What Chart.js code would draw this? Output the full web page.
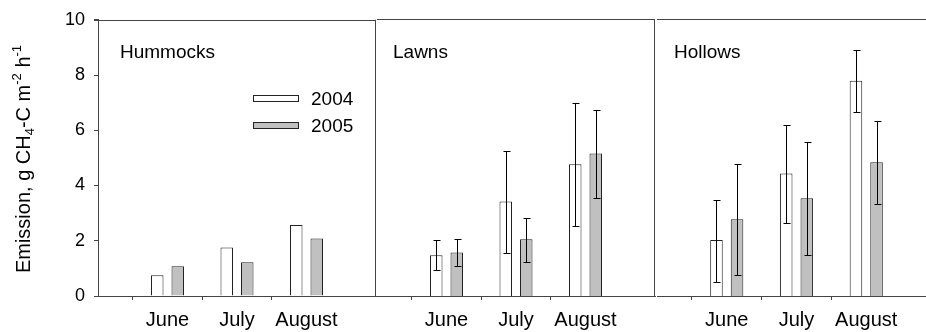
<!DOCTYPE html>
<html>
<head>
<meta charset="utf-8">
<script src="https://cdn.jsdelivr.net/npm/chart.js@4.4.1/dist/chart.umd.min.js"></script>
<style>
  html, body { margin: 0; padding: 0; background: #fff; overflow: hidden; }
  #wrap { position: relative; width: 926px; height: 332px; overflow: hidden; }
  canvas { position: absolute; top: 0; }
</style>
</head>
<body>
<div id="wrap">
  <canvas id="chartHummocks" width="377" height="332" style="left:0px"></canvas>
  <canvas id="chartLawns" width="279" height="332" style="left:377px"></canvas>
  <canvas id="chartHollows" width="280" height="332" style="left:657px"></canvas>
</div>
<script>
// months (empty slots at both ends keep the ticks at 1/4, 2/4, 3/4)
var meses = ['', 'June', 'July', 'August', ''];
var anos = ['2004', '2005'];
var yTicks = [0, 2, 4, 6, 8, 10];

// Hummocks
var hum2004 = [0.75, 1.76, 2.57];
var hum2005 = [1.08, 1.22, 2.08];

// Lawns
var lawn2004 = [1.47, 3.41, 4.76];
var lawn2004Hi = [2.01, 5.25, 6.96];
var lawn2004Lo = [0.94, 1.54, 2.53];
var lawn2005 = [1.57, 2.05, 5.14];
var lawn2005Hi = [2.05, 2.83, 6.72];
var lawn2005Lo = [1.08, 1.22, 3.55];

// Hollows
var hol2004 = [2.02, 4.42, 7.77];
var hol2004Hi = [3.47, 6.18, 8.87];
var hol2004Lo = [0.52, 2.64, 6.64];
var hol2005 = [2.77, 3.53, 4.83];
var hol2005Hi = [4.77, 5.57, 6.32];
var hol2005Lo = [0.77, 1.47, 3.33];

var FONTE = 'Liberation Sans, Arial, sans-serif';
var corLinha = '#444444';

function slots(v) {
    if (!v) return null;
    return [null, v[0], v[1], v[2], null];
}

// error bars, panel frame, panel title, legend and y title
var painelPlugin = {
    id: 'painel',
    afterDatasetsDraw: function (chart, args, opts) {
        var ctx = chart.ctx;
        var ca = chart.chartArea;
        var y = chart.scales.y;
        ctx.save();

        // error bars
        ctx.strokeStyle = '#000';
        ctx.lineWidth = 1;
        chart.data.datasets.forEach(function (ds, di) {
            if (!ds.hi) return;
            var meta = chart.getDatasetMeta(di);
            meta.data.forEach(function (el, i) {
                if (ds.hi[i] == null) return;
                var x = Math.round(el.x) + 0.5;
                var yh = Math.round(y.getPixelForValue(ds.hi[i])) + 0.5;
                var yl = Math.round(y.getPixelForValue(ds.lo[i])) + 0.5;
                ctx.beginPath();
                ctx.moveTo(x, yh); ctx.lineTo(x, yl);
                ctx.moveTo(x - 3, yh); ctx.lineTo(x + 4, yh);
                ctx.moveTo(x - 3, yl); ctx.lineTo(x + 4, yl);
                ctx.stroke();
            });
        });

        // frame: top and right
        ctx.strokeStyle = corLinha;
        ctx.beginPath();
        ctx.moveTo(ca.left - (opts.tickTop ? 4 : 0), Math.round(ca.top) + 0.5);
        ctx.lineTo(ca.right, Math.round(ca.top) + 0.5);
        ctx.moveTo(Math.round(ca.right) - 0.5, ca.top);
        ctx.lineTo(Math.round(ca.right) - 0.5, ca.bottom);
        ctx.stroke();

        // panel title
        ctx.fillStyle = '#000';
        ctx.font = '19px ' + FONTE;
        ctx.textBaseline = 'middle';
        ctx.textAlign = 'left';
        ctx.fillText(opts.titulo, ca.left + opts.tituloX, 53);

        // legend
        if (opts.legenda) {
            chart.data.datasets.forEach(function (ds, di) {
                var by = 95 + di * 27;
                ctx.fillStyle = ds.backgroundColor;
                ctx.fillRect(253, by, 46, 7);
                ctx.strokeStyle = ds.borderColor;
                ctx.strokeRect(253.5, by + 0.5, 45, 6);
                ctx.fillStyle = '#000';
                ctx.font = '19px ' + FONTE;
                ctx.fillText(ds.label, 311, by + 5);
            });
        }

        // y axis title with sub/superscripts
        if (opts.tituloY) {
            var partes = [
                ['Emission, g CH', 0], ['4', 1], ['-C m', 0], ['-2', -1], [' h', 0], ['-1', -1]
            ];
            var grande = '20px ' + FONTE, pequeno = '13px ' + FONTE;
            var total = 0;
            partes.forEach(function (p) {
                ctx.font = p[1] === 0 ? grande : pequeno;
                total += ctx.measureText(p[0]).width;
            });
            ctx.translate(30, 159);
            ctx.rotate(-Math.PI / 2);
            ctx.textBaseline = 'alphabetic';
            ctx.fillStyle = '#000';
            var px = -total / 2;
            partes.forEach(function (p) {
                ctx.font = p[1] === 0 ? grande : pequeno;
                var dy = p[1] === 1 ? 4 : (p[1] === -1 ? -9 : 0);
                ctx.fillText(p[0], px, dy);
                px += ctx.measureText(p[0]).width;
            });
        }
        ctx.restore();
    }
};

function criaPainel(id, titulo, tituloX, v04, v05, hi04, lo04, hi05, lo05, comEixo) {
    var ds = [
        {
            label: anos[0], data: slots(v04), hi: slots(hi04), lo: slots(lo04),
            backgroundColor: '#ffffff', borderColor: '#222222', borderWidth: 1
        },
        {
            label: anos[1], data: slots(v05), hi: slots(hi05), lo: slots(lo05),
            backgroundColor: '#c0c0c0', borderColor: '#222222', borderWidth: 1
        }
    ];
    var eixoY = {
        display: comEixo,
        min: 0, max: 10,
        afterBuildTicks: function (s) { s.ticks = yTicks.map(function (t) { return { value: t }; }); },
        grid: { display: true, drawOnChartArea: false, drawTicks: true, tickLength: 4, color: corLinha },
        border: { display: true, color: corLinha, width: 1 },
        ticks: { padding: 9, color: '#000', font: { family: FONTE, size: 18 } }
    };
    if (comEixo) {
        eixoY.afterFit = function (s) { s.width = 98; };
    }
    return new Chart(document.getElementById(id), {
        type: 'bar',
        data: { labels: meses, datasets: ds },
        plugins: [painelPlugin],
        options: {
            responsive: false,
            animation: false,
            categoryPercentage: 0.59,
            barPercentage: 0.61,
            layout: { padding: { top: 19, right: 1, bottom: 0, left: 0 } },
            scales: {
                x: {
                    offset: false,
                    grid: {
                        display: true, drawOnChartArea: false, drawTicks: true, tickLength: 4,
                        color: function (c) { return meses[c.index] ? corLinha : 'rgba(0,0,0,0)'; }
                    },
                    border: { display: true, color: corLinha, width: 1 },
                    // padding 0 so the axis keeps the full width; lineHeight pushes the labels down
                    ticks: {
                        autoSkip: false, maxRotation: 0, padding: 0, color: '#000',
                        font: { family: FONTE, size: 20, lineHeight: 2.0 }
                    },
                    afterFit: function (s) { s.height = 36; }
                },
                y: eixoY
            },
            plugins: {
                legend: { display: false },
                tooltip: { enabled: false },
                painel: { titulo: titulo, tituloX: tituloX, legenda: comEixo, tituloY: comEixo, tickTop: comEixo }
            }
        }
    });
}

criaPainel('chartHummocks', 'Hummocks', 22, hum2004, hum2005, null, null, null, null, true);
criaPainel('chartLawns', 'Lawns', 16, lawn2004, lawn2005, lawn2004Hi, lawn2004Lo, lawn2005Hi, lawn2005Lo, false);
criaPainel('chartHollows', 'Hollows', 17, hol2004, hol2005, hol2004Hi, hol2004Lo, hol2005Hi, hol2005Lo, false);
</script>
</body>
</html>
